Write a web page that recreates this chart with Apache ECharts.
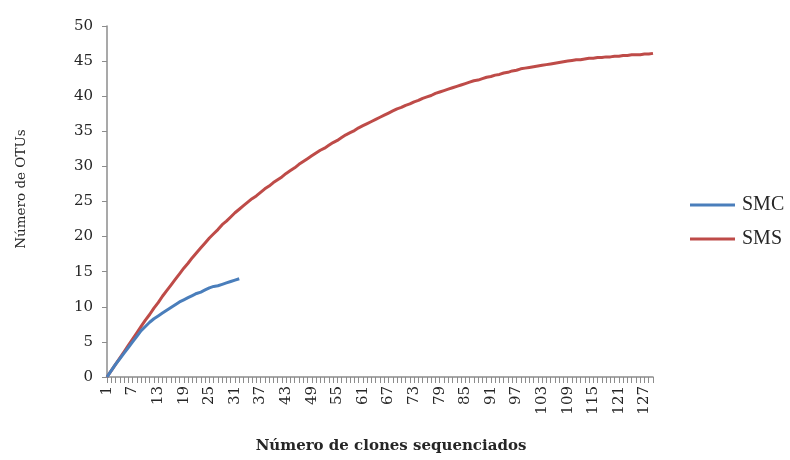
<!DOCTYPE html>
<html>
<head>
<meta charset="utf-8">
<script src="https://cdn.jsdelivr.net/npm/echarts@6/dist/echarts.min.js"></script>
<style>
  html, body { margin: 0; padding: 0; background: #fff; }
  #chart { width: 790px; height: 460px; }
</style>
</head>
<body>
<div id="chart"></div>
<script>
// Number of sequenced clones (category axis), 1..129
const clones = [];
for (let n = 1; n <= 129; n++) clones.push(String(n));

// Accumulated OTUs per sequenced clone
const smc = [
  0, 0.9, 1.8, 2.6, 3.4, 4.2, 5.0, 5.8, 6.6, 7.2,
  7.8, 8.3, 8.7, 9.1, 9.5, 9.9, 10.3, 10.7, 11.0, 11.3,
  11.6, 11.9, 12.1, 12.4, 12.7, 12.9, 13.0, 13.2, 13.4, 13.6,
  13.8, 14.0
];

const sms = [
  0, 0.9, 1.8, 2.7, 3.6, 4.5, 5.4, 6.3, 7.2, 8.1,
  8.9, 9.8, 10.6, 11.5, 12.3, 13.1, 13.9, 14.7, 15.5, 16.2,
  17.0, 17.7, 18.4, 19.1, 19.8, 20.4, 21.0, 21.7, 22.2, 22.8,
  23.4, 23.9, 24.4, 24.9, 25.4, 25.8, 26.3, 26.8, 27.2, 27.7,
  28.1, 28.5, 29.0, 29.4, 29.8, 30.3, 30.7, 31.1, 31.5, 31.9,
  32.3, 32.6, 33.0, 33.4, 33.7, 34.1, 34.5, 34.8, 35.1, 35.5,
  35.8, 36.1, 36.4, 36.7, 37.0, 37.3, 37.6, 37.9, 38.2, 38.4,
  38.7, 38.9, 39.2, 39.4, 39.7, 39.9, 40.1, 40.4, 40.6, 40.8,
  41.0, 41.2, 41.4, 41.6, 41.8, 42.0, 42.2, 42.3, 42.5, 42.7,
  42.8, 43.0, 43.1, 43.3, 43.4, 43.6, 43.7, 43.9, 44.0, 44.1,
  44.2, 44.3, 44.4, 44.5, 44.6, 44.7, 44.8, 44.9, 45.0, 45.1,
  45.2, 45.2, 45.3, 45.4, 45.4, 45.5, 45.5, 45.6, 45.6, 45.7,
  45.7, 45.8, 45.8, 45.9, 45.9, 45.9, 46.0, 46.0, 46.1
];

const seriesNames = ['SMC', 'SMS'];
const xTitle = 'Número de clones sequenciados';
const yTitle = 'Número de OTUs';

const tickFont = '"DejaVu Serif", "Liberation Serif", serif';
const legendFont = '"Liberation Serif", "DejaVu Serif", serif';
const axisGray = '#8c8c8c';
const textColor = '#262626';

const chart = echarts.init(document.getElementById('chart'), null, { renderer: 'canvas' });

chart.setOption({
  animation: false,
  backgroundColor: '#ffffff',
  grid: { left: 107, right: 137, top: 26, bottom: 83, containLabel: false },
  legend: {
    data: seriesNames,
    orient: 'vertical',
    left: 685,
    top: 190,
    icon: 'rect',
    itemWidth: 45,
    itemHeight: 3,
    itemGap: 14,
    textStyle: {
      fontFamily: legendFont,
      fontSize: 20,
      lineHeight: 20,
      color: textColor,
      padding: [0, 0, 0, 2]
    }
  },
  // axis titles placed as free text
  graphic: [
    {
      type: 'text',
      x: 391,
      y: 446,
      style: {
        text: xTitle,
        fontFamily: tickFont,
        fontSize: 15,
        fontWeight: 'bold',
        fill: textColor,
        textAlign: 'center',
        textVerticalAlign: 'middle'
      }
    },
    {
      type: 'text',
      x: 21,
      y: 189,
      rotation: Math.PI / 2,
      style: {
        text: yTitle,
        fontFamily: tickFont,
        fontSize: 13.5,
        fill: textColor,
        textAlign: 'center',
        textVerticalAlign: 'middle'
      }
    }
  ],
  xAxis: {
    type: 'category',
    data: clones,
    boundaryGap: false,
    axisLine: { lineStyle: { color: axisGray, width: 1.5 } },
    axisTick: { show: true, interval: 0, length: 6, lineStyle: { color: axisGray } },
    axisLabel: {
      interval: 5,
      rotate: 90,
      fontFamily: tickFont,
      fontSize: 15,
      color: textColor,
      margin: 9
    },
    splitLine: { show: false }
  },
  yAxis: {
    type: 'value',
    min: 0,
    max: 50,
    interval: 5,
    axisLine: { show: true, lineStyle: { color: axisGray, width: 1.5 } },
    axisTick: { show: true, length: 5, lineStyle: { color: axisGray } },
    axisLabel: { fontFamily: tickFont, fontSize: 15, color: textColor, margin: 14 },
    splitLine: { show: false }
  },
  series: [
    {
      name: seriesNames[0],
      type: 'line',
      data: smc,
      showSymbol: false,
      symbol: 'none',
      lineStyle: { color: '#4a7ebb', width: 3 },
      itemStyle: { color: '#4a7ebb' },
      z: 3
    },
    {
      name: seriesNames[1],
      type: 'line',
      data: sms,
      showSymbol: false,
      symbol: 'none',
      lineStyle: { color: '#be4b48', width: 3 },
      itemStyle: { color: '#be4b48' },
      z: 2
    }
  ]
});
</script>
</body>
</html>
